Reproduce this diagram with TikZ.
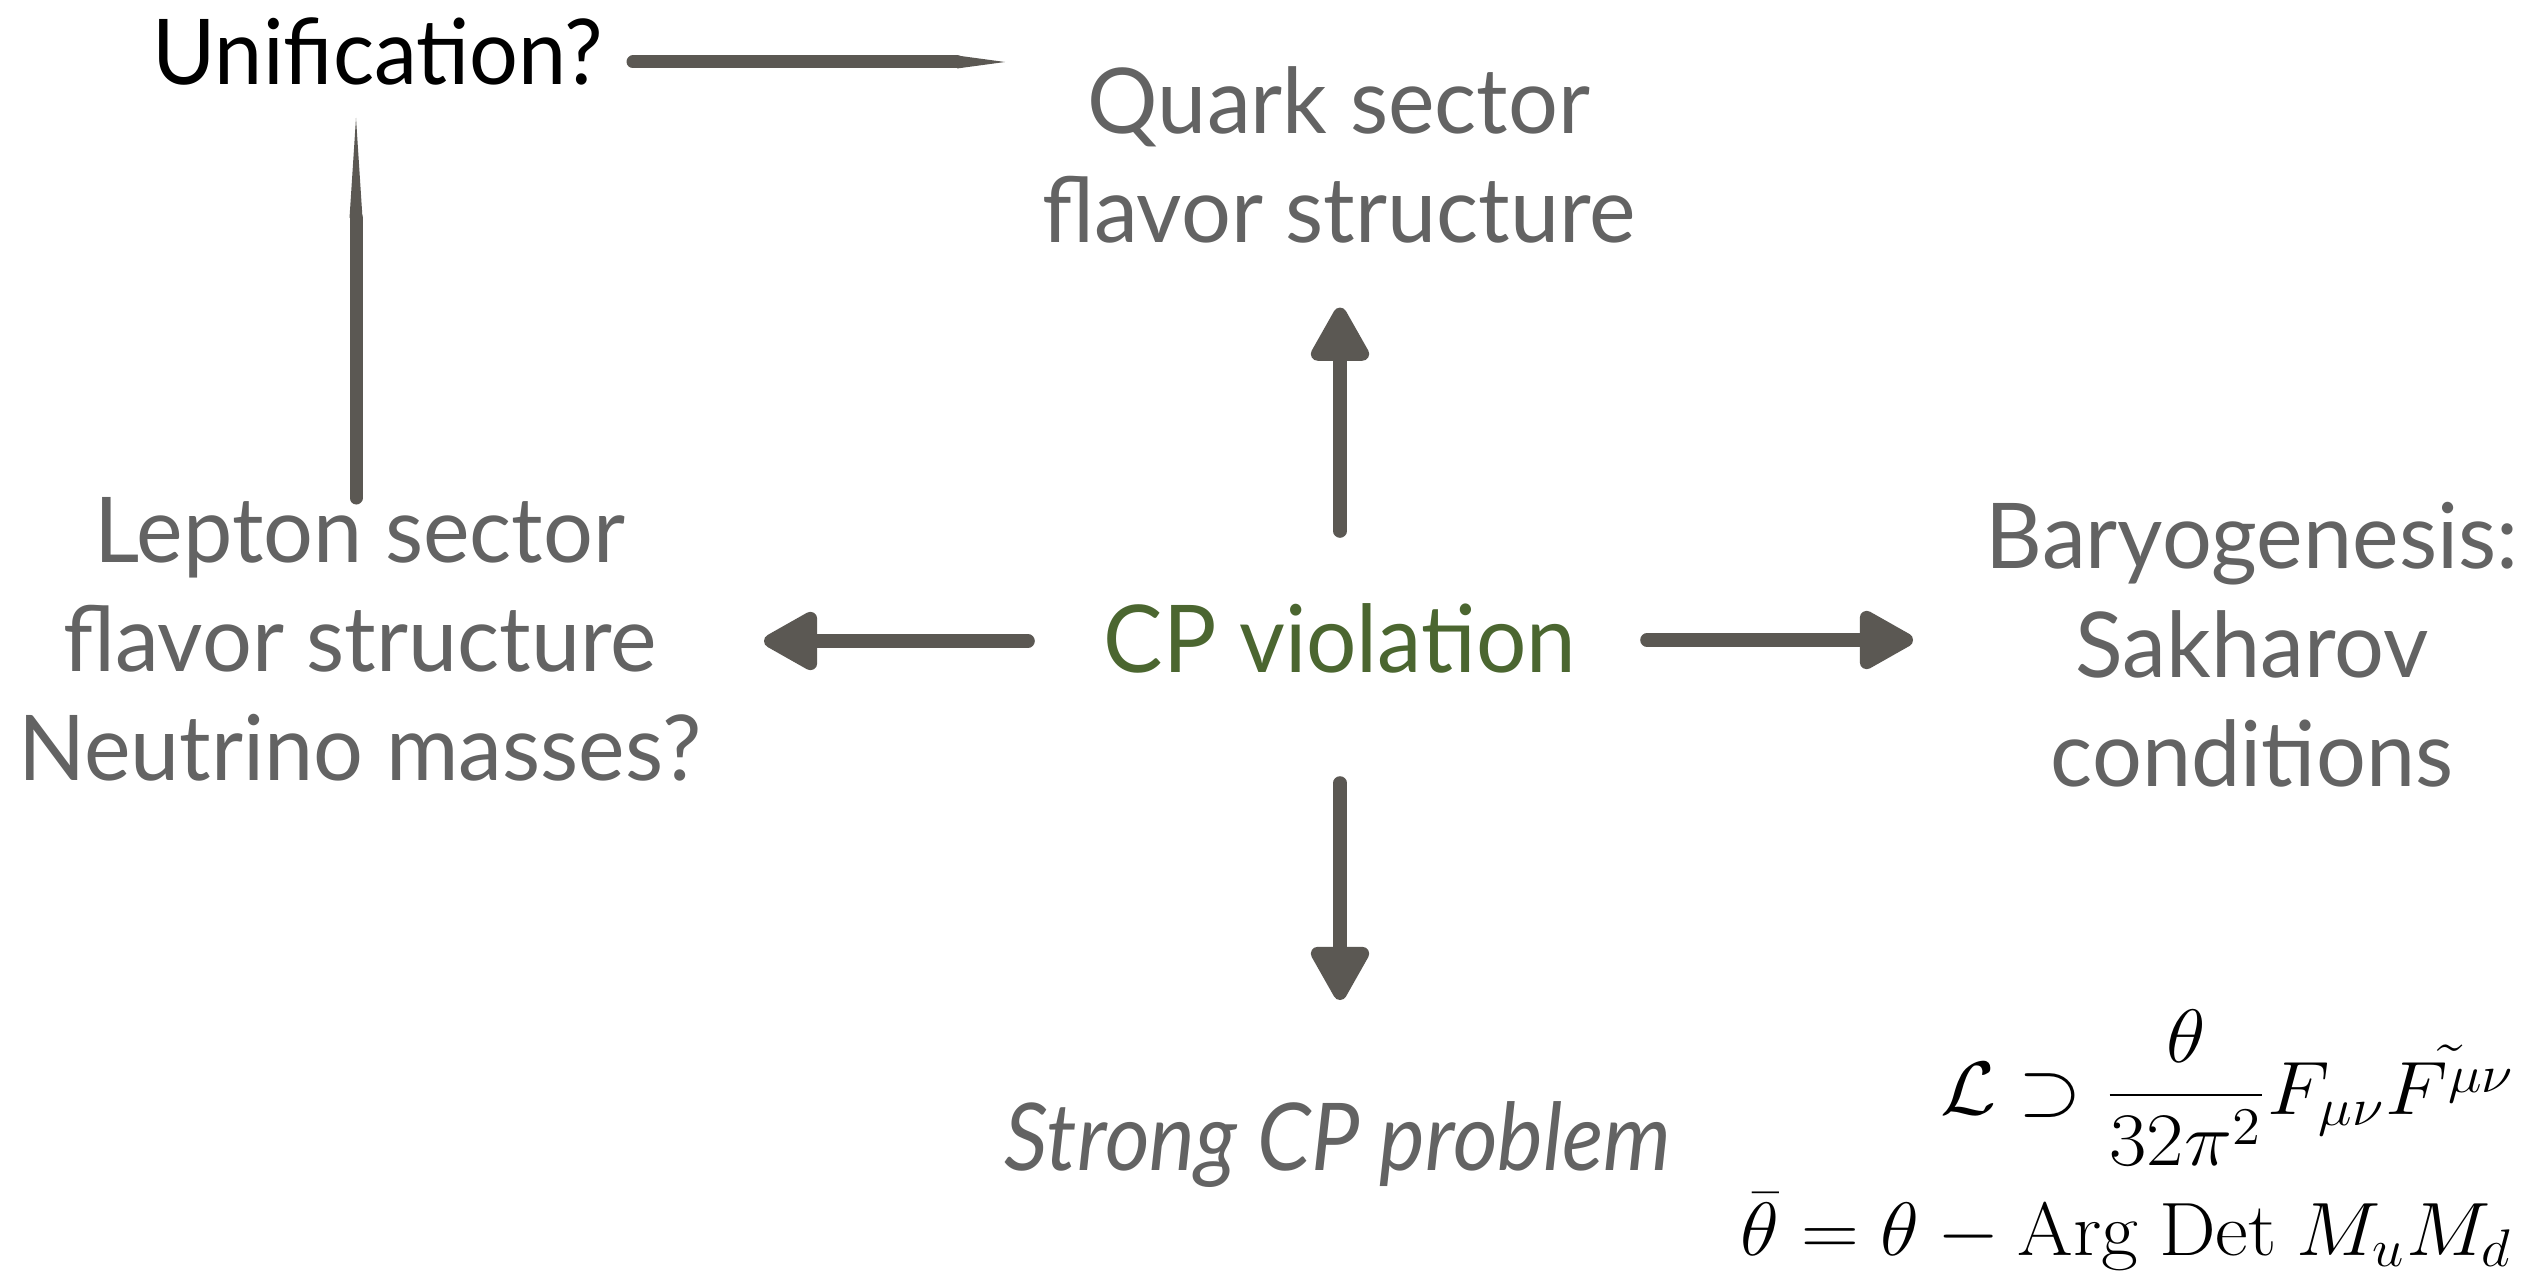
\RequirePackage{fix-cm}
\documentclass[tikz,border=0pt]{standalone}
\usepackage{amsmath}
\usepackage{graphicx}
\usepackage[no-math]{fontspec}
\setmainfont{Lato}[FakeStretch=0.97]
\newfontfamily\condfont[FakeStretch=0.95]{Lato}
\newfontfamily\strongfont[FakeStretch=0.92]{Lato}
\usetikzlibrary{arrows.meta,calc}
\definecolor{tgray}{RGB}{99,99,99}
\definecolor{cpgreen}{RGB}{75,102,48}
\definecolor{acol}{RGB}{91,88,83}
\begin{document}
\begin{tikzpicture}[x=0.25pt,y=-0.25pt,
  lbl/.style={inner sep=0pt, outer sep=0pt, text=tgray, align=center,
    font=\fontsize{22.7pt}{27.25pt}\selectfont},
  mathlbl/.style={inner sep=0pt, outer sep=0pt, text=black,
    font=\fontsize{18.9pt}{22pt}\selectfont},
  arr/.style={draw=acol, fill=acol, line width=3.4pt, line cap=round,
    -{Triangle[length=15.25pt,width=16pt,round]}},
  brush/.style={draw=acol, fill=acol, line width=3.25pt, line cap=round}]
\fill[white] (0,0) rectangle (2522,1272);
\useasboundingbox (0,0) rectangle (2522,1272);

% nodes
\node[lbl, anchor=base, text=black, font=\fontsize{22.7pt}{27.25pt}\condfont] (uni) at (378,85) {Unification?};
\node[lbl, anchor=north] (quark) at (1339,67) {Quark sector\\flavor structure};
\node[lbl, anchor=base, text=cpgreen, font=\fontsize{23.4pt}{28pt}\condfont] (cp) at (1340,672) {CP violation};
\node[lbl, anchor=north] (lep) at (360,497) {Lepton sector\\flavor structure\\Neutrino masses?};
\node[lbl, anchor=north] (bary) at (2252,502) {Baryogenesis:\\Sakharov\\conditions};
\node[lbl, anchor=base, font=\fontsize{23.4pt}{28pt}\strongfont\itshape] (strong) at (1338,1170) {Strong CP problem};
\node[mathlbl, anchor=base west] (f1) at (1940,1114)
  {\scalebox{1.075}[1]{$\displaystyle \mathcal{L} \supset \frac{\theta}{32\pi^2} F_{\mu\nu}\tilde{F^{\mu\nu}}$}};
\node[mathlbl, anchor=base west] (f2) at (1740,1255)
  {\scalebox{1.06}[1]{$\bar{\theta} = \theta - \mathrm{Arg\ Det}\ M_u M_d$}};

% arrows from CP violation
\draw[arr] ($(cp.base)+(0,-141)$) -- ($(cp.base |- quark.south)+(0,64)$);
\draw[arr] ($(cp.base)+(0,111)$) -- ($(cp.base |- strong.base)+(0,-170)$);
\draw[arr] ($(cp.base)+(-312,-31)$) -- ($(lep.north |- cp.base)+(404,-31)$);
\draw[arr] ($(cp.base)+(307,-32)$) -- ($(bary.north |- cp.base)+(-339,-32)$);

% unification connectors (brush strokes with tapered ends)
\draw[brush, -{Triangle[length=12pt,width=3.25pt,line width=0pt]}]
  ($(uni.base)+(255,-23)$) -- ($(quark.north |- uni.base)+(-334,-23)$);
\draw[brush, {Triangle[length=25pt,width=3.25pt,line width=0pt]}-]
  ($(lep.north |- uni.base)+(-4,33)$) -- ($(lep.north)+(-4,1)$);
\end{tikzpicture}
\end{document}
